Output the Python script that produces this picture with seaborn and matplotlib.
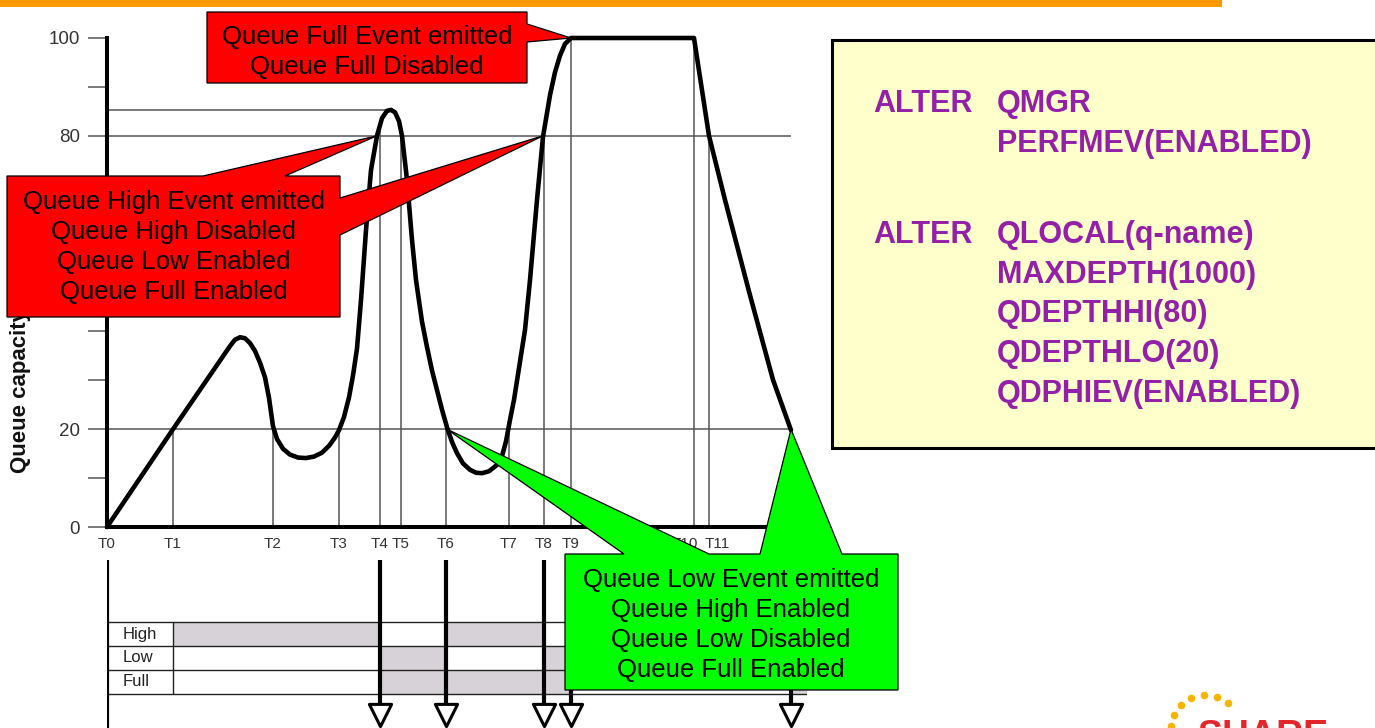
import matplotlib
matplotlib.use('Agg')
import matplotlib.pyplot as plt
import matplotlib.transforms as mtrans
import seaborn as sns
import numpy as np
from matplotlib.patches import Polygon, Rectangle

W, H = 1375, 728

# time marks on the x axis
t_labels = ['T0', 'T1', 'T2', 'T3', 'T4', 'T5', 'T6', 'T7', 'T8', 'T9', 'T10', 'T11']
t_pos = [0, 6.6, 16.6, 23.2, 27.3, 29.4, 33.9, 40.2, 43.7, 46.4, 58.7, 60.2]
t_level = [0, 20, 20, 20, 82, 81, 20, 20, 80, 100, 100, 80]
t_end = 68.4

# queue depth curve (percent of capacity)
curve_t = [0, 6.6, 12.3, 12.8, 13.3, 13.8, 14.3, 14.8, 15.3, 15.8, 16.2, 16.6, 17.0,
           17.6, 18.3, 19.1, 19.9, 20.7, 21.5, 22.2, 22.8, 23.2, 23.7, 24.2, 24.6,
           25.0, 25.4, 25.9, 26.4, 27.0, 27.5, 28.0, 28.4, 28.8, 29.2, 29.5, 30.0,
           30.5, 30.9, 31.5, 32.0, 32.5, 33.0, 33.5, 34.0, 34.5, 35.0, 35.6, 36.3,
           36.9, 37.5, 38.2, 39.0, 39.5, 39.9, 40.3, 40.7, 41.2, 41.8, 42.3, 43.0,
           43.6, 44.3, 44.8, 45.3, 45.8, 46.4, 58.7, 60.2, 61.8, 64.3, 66.6, 68.4]
curve_v = [0, 20, 37.0, 38.3, 38.8, 38.6, 37.6, 36.0, 33.6, 30.6, 26.4, 20.6, 18.0,
           16.0, 14.8, 14.2, 14.1, 14.4, 15.2, 16.6, 18.3, 19.8, 22.5, 26.5, 31.0,
           36.5, 46.4, 60.7, 73.0, 80.0, 83.6, 85.1, 85.3, 84.8, 83.0, 80.0, 71.0,
           58.7, 50.5, 42.0, 36.8, 32.0, 28.0, 24.0, 20.4, 17.4, 15.1, 13.0, 11.7,
           11.1, 11.0, 11.4, 12.7, 14.5, 17.5, 21.9, 26.0, 32.5, 40.3, 50.5, 66.9,
           79.8, 88.3, 93.0, 96.4, 98.8, 100, 100, 80, 66.9, 47.4, 30.1, 19.8]

q_high = 80
q_low = 20
peak_level = 85.3
peak_t = 28.4

# event enable state (grey = enabled)
rows = ['High', 'Low', 'Full']
enabled = {
    'High': [(0, 27.3), (33.9, 43.7), (68.4, 70)],
    'Low': [(27.3, 33.9), (43.7, 68.4)],
    'Full': [(27.3, 46.4), (68.4, 70)],
}
event_t = [27.3, 33.9, 43.7, 46.4, 68.4]

full_txt = 'Queue Full Event emitted\nQueue Full Disabled'
high_txt = ('Queue High Event emitted\nQueue High Disabled\n'
            'Queue Low Enabled\nQueue Full Enabled')
low_txt = ('Queue Low Event emitted\nQueue High Enabled\n'
           'Queue Low Disabled\nQueue Full Enabled')

cmd_left = ['ALTER', '', 'ALTER', '', '', '', '']
cmd_right = ['QMGR', 'PERFMEV(ENABLED)', 'QLOCAL(q-name)', 'MAXDEPTH(1000)',
             'QDEPTHHI(80)', 'QDEPTHLO(20)', 'QDPHIEV(ENABLED)']
cmd_y = [112, 152, 243, 283, 322, 362, 402]

sns.set_style('white')
plt.rcParams['font.family'] = ['Liberation Sans', 'DejaVu Sans']

fig = plt.figure(figsize=(W / 100, H / 100), dpi=100)
fig.patch.set_facecolor('white')

# ---- main chart
ax = fig.add_axes([107 / W, (H - 527) / H, 700 / W, 489 / H])
ax.set_facecolor('none')
ax.set_xlim(0, 70)
ax.set_ylim(0, 100)

ax.hlines([q_high, q_low], 0, t_end, colors='#555555', lw=1.1, zorder=1)
ax.hlines(peak_level, 0, peak_t, colors='#555555', lw=1.1, zorder=1)
ax.vlines(t_pos[1:], 0, t_level[1:], colors='#555555', lw=1.1, zorder=1)

sns.lineplot(x=curve_t, y=curve_v, ax=ax, color='black', linewidth=3.3,
             sort=False, estimator=None, zorder=3)
ln = ax.lines[-1]
ln.set_clip_on(False)
ln.set_solid_joinstyle('round')
ln.set_solid_capstyle('round')

sns.despine(ax=ax)
for s in ['left', 'bottom']:
    ax.spines[s].set_linewidth(2.9)
    ax.spines[s].set_color('black')
    ax.spines[s].set_zorder(4)
ax.spines['bottom'].set_bounds(0, t_end)

yt = np.arange(0, 101, 10)
ax.set_yticks(yt)
ax.set_yticklabels([str(v) if v in (0, 20, 80, 100) else '' for v in yt])
ax.set_xticks(t_pos)
ax.set_xticklabels(t_labels)
ax.tick_params(axis='y', length=13.7, width=1.1, color='#555555', pad=5.8,
               labelsize=13.5, labelcolor='#333333', left=True)
ax.tick_params(axis='x', length=0, pad=7, labelsize=11, labelcolor='#333333')
# the two close marks at the end are pushed apart
nudge = {'T10': -9, 'T11': 8}
for lbl in ax.get_xticklabels():
    d = nudge.get(lbl.get_text(), 0)
    if d:
        lbl.set_transform(lbl.get_transform() +
                          mtrans.ScaledTranslation(d / 100, 0, fig.dpi_scale_trans))
ax.set_xlabel('')
ax.set_ylabel('')
ax.text(21 / W, (H - 473) / H, 'Queue capacity', rotation=90, ha='center', va='bottom',
        fontsize=16, fontweight='bold', color='#111111', transform=fig.transFigure,
        clip_on=False)

# ---- timeline / state table
tl = fig.add_axes([107 / W, 0, 700 / W, 173 / H], sharex=ax)
tl.set_facecolor('none')
tl.set_ylim(0, 173)
tl.axis('off')
lab_end = t_pos[1]
row_top = 106
row_h = 24
for i, r in enumerate(rows):
    y0 = row_top - row_h * (i + 1)
    spans = [(max(a, lab_end), b - max(a, lab_end)) for a, b in enabled[r]]
    tl.broken_barh(spans, (y0, row_h), facecolor='#d7d2d7', edgecolor='none', zorder=1)
    tl.text(1.6, y0 + row_h / 2, r, va='center', ha='left', fontsize=12, color='#222222')
tl.hlines([row_top - row_h * k for k in range(4)], 0, 70, colors='#222222', lw=1.0, zorder=2)
tl.vlines(lab_end, row_top - row_h * 3, row_top, colors='#222222', lw=1.0, zorder=2)
tl.vlines(0, 0, 168, colors='black', lw=3, zorder=3)
tl.vlines(event_t, 24, 168, colors='black', lw=3, zorder=3)
tl.scatter(event_t, [13] * len(event_t), marker='v', s=16 ** 2, facecolor='white',
           edgecolor='black', linewidths=2.2, zorder=4, clip_on=False)

# ---- overlay for callouts and decoration (pixel coords)
ov = fig.add_axes([0, 0, 1, 1])
ov.set_facecolor('none')
ov.set_xlim(0, W)
ov.set_ylim(H, 0)
ov.axis('off')


def px(x, y):
    X, Y = ax.transData.transform((x, y))
    return (X, H - Y)


def callout(pts, color):
    ov.add_patch(Polygon(pts, closed=True, facecolor=color, edgecolor='black',
                         lw=0.9, joinstyle='miter', zorder=2))


ov.add_patch(Rectangle((0, 0), 1222, 6.5, facecolor='#ff9900', edgecolor='none'))

callout([(207, 12), (527, 12), (527, 24), px(46.4, 100), (527, 42), (527, 83), (207, 83)],
        '#ff0000')
ov.text(367, 52, full_txt, ha='center', va='center', fontsize=18.5, linespacing=1.33,
        color='black', zorder=3)

callout([(7, 176), (203, 176), px(27.0, q_high), (285, 176), (340, 176), (340, 198),
         px(43.6, q_high), (340, 235), (340, 317), (7, 317)], '#ff0000')
ov.text(174, 247, high_txt, ha='center', va='center', fontsize=18.5, linespacing=1.33,
        color='black', zorder=3)

callout([(565, 554), (624, 554), px(34.0, q_low), (709, 554), (760, 554), px(t_end, q_low),
         (842, 554), (898, 554), (898, 690), (565, 690)], '#00ff00')
ov.text(731, 625, low_txt, ha='center', va='center', fontsize=18.5, linespacing=1.33,
        color='black', zorder=3)

ov.add_patch(Rectangle((832, 40), 560, 408, facecolor='#ffffcc', edgecolor='black',
                       lw=2.2, zorder=2))
for a, b, y in zip(cmd_left, cmd_right, cmd_y):
    if a:
        ov.text(873, y, a, ha='left', va='baseline', fontsize=22, fontweight='bold',
                color='#9420a8', zorder=3)
    ov.text(997, y, b, ha='left', va='baseline', fontsize=22, fontweight='bold',
            color='#9420a8', zorder=3)

# share logo (partly cut off at the bottom)
dots_x = [1171, 1174, 1181, 1191, 1204, 1217, 1228]
dots_y = [726, 715, 705, 698, 695, 697, 703]
ov.scatter(dots_x, dots_y, s=20, color='#f5b400', zorder=3, clip_on=False)
ov.text(1198, 719, 'SHARE', ha='left', va='top', fontsize=27, fontweight='bold',
        color='#e3262a', zorder=3, clip_on=False)

fig.savefig('out.png', dpi=100)
